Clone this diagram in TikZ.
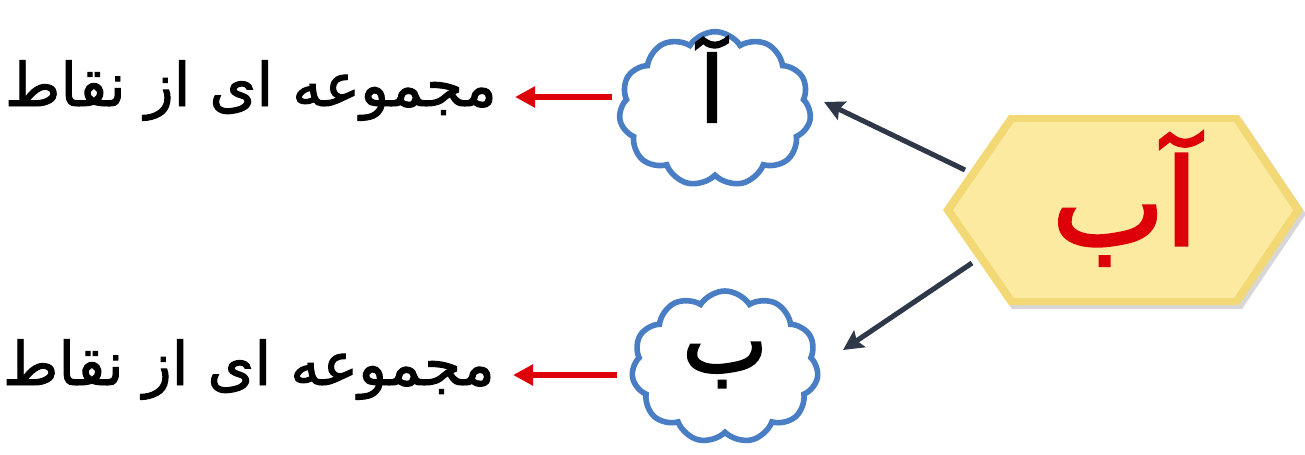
\documentclass[tikz,border=0pt]{standalone}
\usepackage{fontspec}
\usetikzlibrary{shapes.symbols,arrows.meta}
\TeXXeTstate=1
\newfontfamily\arabicfont[Script=Arabic,FakeBold=1.6]{DejaVu Sans}
\newfontfamily\arabicbig[Script=Arabic,FakeBold=2.5]{DejaVu Sans}
\definecolor{cloudblue}{RGB}{74,126,196}
\definecolor{darkarrow}{RGB}{46,56,72}
\definecolor{arrred}{RGB}{222,0,8}
\definecolor{hexfill}{RGB}{252,234,160}
\definecolor{hexedge}{RGB}{243,216,118}
\definecolor{hexshadow}{RGB}{215,215,215}
\begin{document}
\begin{tikzpicture}[x=0.75pt,y=-0.75pt,
  cloudnode/.style={cloud, cloud puffs=11, cloud puff arc=115, draw=cloudblue, line width=4.2pt, fill=white, inner sep=0pt},
  bigtxt/.style={font=\arabicbig\fontsize{68}{70}\selectfont, inner sep=0pt, anchor=base},
  hextxt/.style={font=\arabicbig\fontsize{90}{96}\selectfont, text=arrred, inner sep=0pt, anchor=base},
  lbltxt/.style={font=\arabicfont\fontsize{45}{50}\selectfont, inner sep=0pt, anchor=base east},
  darkarr/.style={draw=darkarrow, line width=3.8pt, -{Stealth[length=15pt,width=15pt,inset=2.5pt]}},
  redarr/.style={draw=arrred, line width=3.8pt, -{Triangle[length=15pt,width=15pt]}}
]
\useasboundingbox (0,0) rectangle (1305,454);
% hexagon
\fill[hexshadow] (947,214) -- (1012,119) -- (1242,119) -- (1306,214) -- (1242,309) -- (1012,309) -- cycle;
\fill[hexedge] (943,210) -- (1009,115) -- (1239,115) -- (1303,210) -- (1239,305) -- (1009,305) -- cycle;
\fill[hexfill] (953,210) -- (1014,122) -- (1234,122) -- (1293,210) -- (1234,298) -- (1014,298) -- cycle;
\node[hextxt] (hex) at (1125,245) {\beginR آب\endR};
% clouds
\node[cloudnode, minimum width=144pt, minimum height=116pt] (cA) at (715,109) {};
\node[cloudnode, minimum width=140pt, minimum height=114pt] (cB) at (725,367) {};
\node[bigtxt] (tA) at (712,122) {\beginR آ\endR};
\node[bigtxt] (tB) at (725,372) {\beginR ب\endR};
% labels
\node[lbltxt] (lA) at (497,106) {\beginR مجموعه ای از نقاط\endR};
\node[lbltxt] (lB) at (495,385) {\beginR مجموعه ای از نقاط\endR};
% connector endpoints
\coordinate (h1) at (965,170);
\coordinate (h2) at (972,263);
\coordinate (a1) at (824,102);
\coordinate (b1) at (843,350);
\coordinate (rA1) at (612,97);
\coordinate (rA2) at (515,97);
\coordinate (rB1) at (617,375);
\coordinate (rB2) at (513,375);
\draw[darkarr] (h1) -- (a1);
\draw[darkarr] (h2) -- (b1);
\draw[redarr] (rA1) -- (rA2);
\draw[redarr] (rB1) -- (rB2);
\end{tikzpicture}
\end{document}
